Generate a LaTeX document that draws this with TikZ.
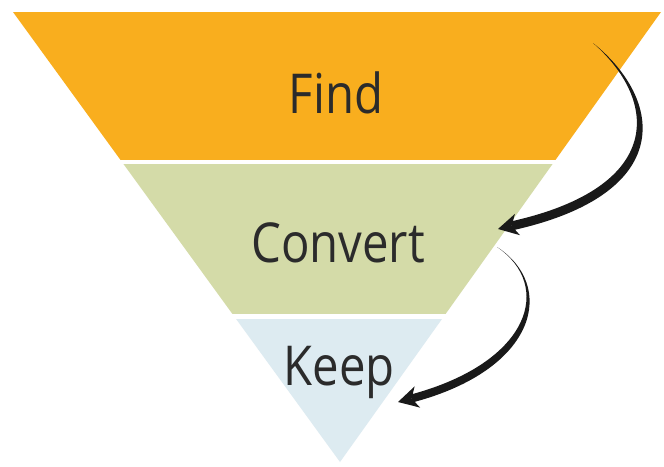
\documentclass[tikz,border=0pt]{standalone}
\usepackage{fontspec}
\setmainfont{Open Sans}
\definecolor{findc}{HTML}{F9AE1E}
\definecolor{convc}{HTML}{D4DBA8}
\definecolor{keepc}{HTML}{DDEBF1}
\definecolor{txtc}{HTML}{2B2B2B}
\begin{document}
\begin{tikzpicture}[x=1pt,y=-1pt,
  label/.style={text=txtc,font=\fontsize{55}{60}\selectfont,inner sep=0pt,anchor=base,xscale=0.86},
  arrowfill/.style={fill=black!90}]
\useasboundingbox (0,0) rectangle (664,466);
\fill[white] (0,0) rectangle (664,466);
\begin{scope}
  \clip (13,12) -- (661,12) -- (340,462) -- cycle;
  \fill[findc] (0,12) rectangle (664,160);
  \fill[convc] (0,164) rectangle (664,314);
  \fill[keepc] (0,319) rectangle (664,466);
\end{scope}
\node[label] (find) at (336,113) {Find};
\node[label] (convert) at (338,262) {Convert};
\node[label] (keep) at (339,385) {Keep};
% arrow 1: Find -> Convert
\coordinate (s1) at (593,43);
\coordinate (t1) at (498,229);
\fill[arrowfill] (s1) .. controls (664,100) and (676,194) .. (512.6,230.3)
  -- (510.6,221.5) .. controls (666,187) and (658,100) .. (s1) -- cycle;
\fill[arrowfill] (t1) -- (520,235.2) -- (511.6,225.9) -- (515,213.8) -- cycle;
% arrow 2: Convert -> Keep
\coordinate (s2) at (497,247);
\coordinate (t2) at (398,402);
\fill[arrowfill] (s2) .. controls (556,285) and (539,369) .. (412.6,402.4)
  -- (410.6,394.6) .. controls (532,362) and (553,285) .. (s2) -- cycle;
\fill[arrowfill] (t2) -- (420.1,407.6) -- (411.6,398.5) -- (414.6,386.4) -- cycle;
\end{tikzpicture}
\end{document}
